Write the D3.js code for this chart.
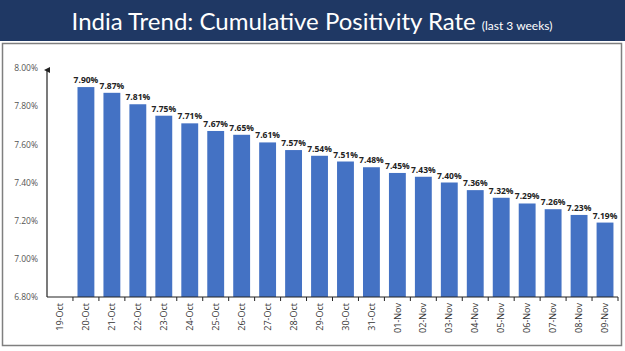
<!DOCTYPE html>
<html><head><meta charset="utf-8">
<script src="https://cdn.jsdelivr.net/npm/d3@7"></script>
<style>
body{margin:0;background:#fff;}
svg{display:block;}
</style></head>
<body>
<svg id="c" width="625" height="351"></svg>
<script>
const categories = ["19-Oct","20-Oct","21-Oct","22-Oct","23-Oct","24-Oct","25-Oct","26-Oct","27-Oct","28-Oct","29-Oct","30-Oct","31-Oct","01-Nov","02-Nov","03-Nov","04-Nov","05-Nov","06-Nov","07-Nov","08-Nov","09-Nov"];
const values = [null,7.90,7.87,7.81,7.75,7.71,7.67,7.65,7.61,7.57,7.54,7.51,7.48,7.45,7.43,7.40,7.36,7.32,7.29,7.26,7.23,7.19];
const yTicks = [6.8,7.0,7.2,7.4,7.6,7.8,8.0];
const titleMain = "India Trend: Cumulative Positivity Rate";
const titleSub = "(last 3 weeks)";

const svg = d3.select("#c");
// banner
svg.append("rect").attr("x",0).attr("y",0).attr("width",625).attr("height",41).attr("fill","#1f3864");
// frame
svg.append("rect").attr("x",2.5).attr("y",43.5).attr("width",619).attr("height",302)
  .attr("fill","#fff").attr("stroke","#7f7f7f").attr("stroke-width",1.5);

const t = svg.append("text").attr("x",312).attr("y",30).attr("text-anchor","middle")
  .attr("fill","#fff").attr("font-family","Lato, 'Open Sans', sans-serif");
t.append("tspan").attr("font-size",24).text(titleMain);
t.append("tspan").attr("font-size",12).attr("dx",6).text(titleSub);

const x0 = 47, x1 = 618, yTop = 68, yBot = 297;
const x = d3.scaleBand().domain(categories).range([x0,x1]).paddingInner(0.35).paddingOuter(0.175);
const xb = d3.scaleBand().domain(categories).range([x0,x1]);
const y = d3.scaleLinear().domain([6.8,8.0]).range([yBot,yTop]);

// bars
const data = categories.map((c,i)=>({c, v: values[i]})).filter(d=>d.v!=null);
svg.selectAll("rect.bar").data(data).enter().append("rect").attr("class","bar")
  .attr("x",d=>x(d.c)).attr("width",x.bandwidth())
  .attr("y",d=>y(d.v)).attr("height",d=>yBot-y(d.v)).attr("fill","#4472c4");

// value labels
svg.selectAll("text.val").data(data).enter().append("text").attr("class","val")
  .attr("x",d=>x(d.c)+x.bandwidth()/2).attr("y",d=>y(d.v)-4)
  .attr("text-anchor","middle").attr("font-family","'Open Sans', sans-serif")
  .attr("font-weight","bold").attr("font-size",8.5).attr("fill","#222")
  .text(d=>d.v.toFixed(2)+"%");

// y axis
const ya = d3.axisLeft(y).tickValues(yTicks).tickSize(0).tickPadding(9).tickFormat(d=>d.toFixed(2)+"%");
const gy = svg.append("g").attr("transform",`translate(${x0},0)`).call(ya);
gy.select(".domain").remove();
gy.selectAll("text").attr("font-family","'Open Sans', sans-serif").attr("font-size",8.5).attr("fill","#555");
svg.append("defs").append("marker").attr("id","arr").attr("viewBox","0 0 6 6").attr("refX",3).attr("refY",3)
  .attr("markerWidth",5).attr("markerHeight",5).attr("orient","auto")
  .append("path").attr("d","M0,6 L3,0 L6,6 Z").attr("fill","#222");
svg.append("line").attr("x1",x0).attr("x2",x0).attr("y1",yBot).attr("y2",yTop+2)
  .attr("stroke","#222").attr("stroke-width",1.2).attr("marker-end","url(#arr)");

// x axis
const xa = d3.axisBottom(xb).tickSize(0).tickPadding(6);
const gx = svg.append("g").attr("transform",`translate(0,${yBot})`).call(xa);
gx.select(".domain").remove();
gx.selectAll("text").attr("font-family","'Open Sans', sans-serif").attr("font-size",9).attr("fill","#333")
  .attr("transform","rotate(-90)").attr("text-anchor","end").attr("dy","0.35em").attr("x",-6).attr("y",0);
svg.append("line").attr("x1",x0).attr("x2",x1).attr("y1",yBot).attr("y2",yBot).attr("stroke","#222").attr("stroke-width",1.2);
svg.selectAll("line.tk").data(categories.slice(1).concat(["end"])).enter().append("line").attr("class","tk")
  .attr("x1",(d,i)=>x0+xb.step()*(i+1)).attr("x2",(d,i)=>x0+xb.step()*(i+1))
  .attr("y1",yBot).attr("y2",yBot+4).attr("stroke","#222").attr("stroke-width",1);
</script>
</body></html>
